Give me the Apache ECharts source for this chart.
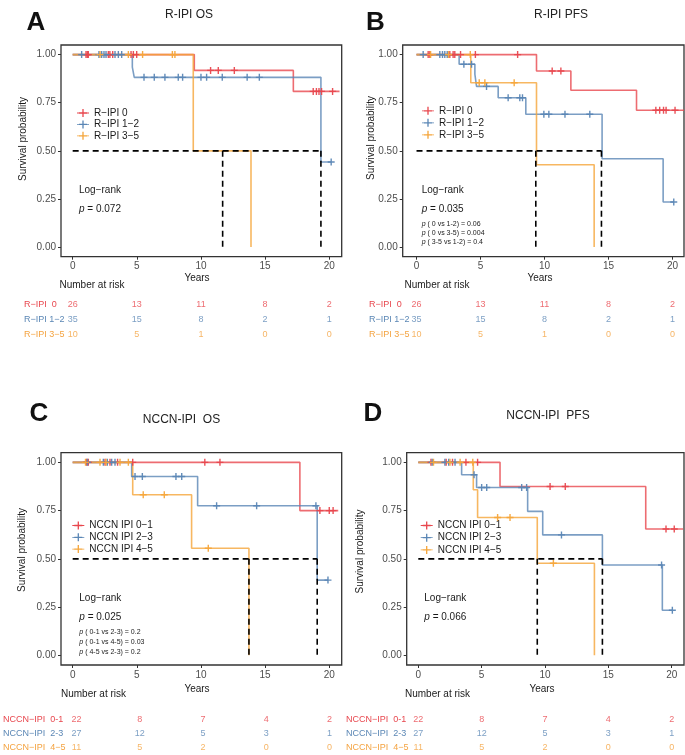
<!DOCTYPE html>
<html><head><meta charset="utf-8">
<script src="https://cdn.jsdelivr.net/npm/echarts@6/dist/echarts.min.js"></script>
<style>html,body{margin:0;padding:0;background:#fff}#c{width:685px;height:755px}</style>
</head><body><div id="c"></div>
<script>
// ---------------- DATA ----------------
const tickYears = [0, 5, 10, 15, 20];
const tickSurv = [0, 0.25, 0.5, 0.75, 1];
const riskTimes = [0, 5, 10, 15, 20];

const ripiGroups = ['R−IPI 0', 'R−IPI 1−2', 'R−IPI 3−5'];
const nccnGroups = ['NCCN IPI 0−1', 'NCCN IPI 2−3', 'NCCN IPI 4−5'];
const ripiRiskLabels = ['R−IPI  0', 'R−IPI 1−2', 'R−IPI 3−5'];
const nccnRiskLabels = ['NCCN−IPI  0-1', 'NCCN−IPI  2-3', 'NCCN−IPI  4−5'];

const ripiRisk0 = [26, 13, 11, 8, 2];
const ripiRisk12 = [35, 15, 8, 2, 1];
const ripiRisk35 = [10, 5, 1, 0, 0];
const nccnRisk01 = [22, 8, 7, 4, 2];
const nccnRisk23 = [27, 12, 5, 3, 1];
const nccnRisk45 = [11, 5, 2, 0, 0];

// Panel A: R-IPI OS
const aTime0 = [0, 9.48, 17.2, 20.8];
const aSurv0 = [1, 0.918, 0.809, 0.809];
const aCens0 = [1.04, 1.14, 1.22, 2.78, 2.9, 3.12, 4.55, 4.73, 4.99, 10.75, 11.35, 12.6, 18.75, 19.0, 19.2, 19.4, 20.26];
const aTime1 = [0, 4.65, 4.8, 19.35, 20.15];
const aSurv1 = [1, 0.935, 0.882, 0.442, 0.442];
const aCens1 = [0.7, 2.05, 2.26, 2.44, 2.6, 3.3, 3.56, 3.82, 5.56, 6.36, 7.19, 8.23, 8.57, 10.0, 10.44, 11.66, 13.6, 14.55, 20.15];
const aTime2 = [0, 9.4, 13.9];
const aSurv2 = [1, 0.5, 0];
const aCens2 = [2.13, 4.34, 5.45, 7.77, 7.97];
const aMedians = [11.69, 19.35];

// Panel B: R-IPI PFS
const bTime0 = [0, 9.375, 12.06, 17.19, 20.9];
const bSurv0 = [1, 0.915, 0.815, 0.711, 0.711];
const bCens0 = [0.91, 1.04, 2.6, 2.86, 2.99, 3.44, 4.6, 7.9, 10.6, 11.28, 18.7, 19.0, 19.3, 19.5, 20.2];
const bTime1 = [0, 3.33, 4.56, 4.69, 6.38, 8.54, 14.5, 19.27, 20.1];
const bSurv1 = [1, 0.95, 0.898, 0.835, 0.776, 0.69, 0.459, 0.234, 0.234];
const bCens1 = [0.52, 1.82, 2.03, 2.21, 2.4, 3.7, 4.3, 5.47, 7.16, 8.07, 8.28, 9.95, 10.34, 11.6, 13.54, 20.1];
const bTime2 = [0, 4.24, 9.375, 13.88];
const bSurv2 = [1, 0.854, 0.428, 0];
const bCens2 = [1.1, 2.5, 4.2, 4.9, 5.34, 7.63];
const bMedians = [9.32, 14.45];

// Panel C: NCCN-IPI OS
const cTime0 = [0, 17.71, 20.7];
const cSurv0 = [1, 0.75, 0.75];
const cCens0 = [1.09, 1.22, 2.52, 2.91, 3.5, 4.68, 10.3, 11.48, 19.27, 20.0, 20.3];
const cTime1 = [0, 4.6, 9.74, 19.06, 19.9];
const cSurv1 = [1, 0.927, 0.775, 0.39, 0.39];
const cCens1 = [1.15, 2.39, 2.7, 3.04, 3.3, 4.86, 5.43, 8.05, 8.5, 11.22, 14.34, 18.96, 19.9];
const cTime2 = [0, 4.68, 9.27, 13.74];
const cSurv2 = [1, 0.832, 0.555, 0];
const cCens2 = [1.0, 2.13, 2.6, 3.69, 4.34, 5.5, 7.14, 10.57];
const cMedians = [13.74, 19.06];

// Panel D: NCCN-IPI PFS
const dTime0 = [0, 6.45, 17.95, 20.9];
const dSurv0 = [1, 0.875, 0.655, 0.655];
const dCens0 = [1.0, 2.2, 2.7, 3.76, 4.68, 10.4, 11.6, 19.55, 20.2];
const dTime1 = [0, 3.42, 4.6, 8.63, 9.82, 14.53, 19.26, 20.05];
const dSurv1 = [1, 0.936, 0.87, 0.746, 0.624, 0.468, 0.234, 0.234];
const dCens1 = [1.1, 2.1, 2.4, 2.9, 4.4, 5.0, 5.4, 8.16, 8.55, 11.3, 19.2, 20.05];
const dTime2 = [0, 4.34, 4.68, 9.39, 13.9];
const dSurv2 = [1, 0.858, 0.714, 0.477, 0];
const dCens2 = [1.2, 2.5, 3.3, 4.3, 6.26, 7.24, 10.66];
const dMedians = [9.39, 14.53];

// ---------------- STYLE / LAYOUT ----------------
const FONT = '"Liberation Sans", Arial, Helvetica, sans-serif';
const lineColors = ['#E8474E', '#5A86B5', '#F5A53A'];
const textColors = ['#E8474E', '#5B87B5', '#F4A340'];
const plusPath = 'path://M4,0H6V4H10V6H6V10H4V6H0V4H4Z';
const legendIcon = 'path://M0,3.6H12V4.4H0Z M5.35,0H6.65V8H5.35Z M2,3.35H10V4.65H2Z';

const panels = [
  { curves: [[aTime0, aSurv0, aCens0], [aTime1, aSurv1, aCens1], [aTime2, aSurv2, aCens2]], medians: aMedians,
    groups: ripiGroups, riskLabels: ripiRiskLabels, risk: [ripiRisk0, ripiRisk12, ripiRisk35],
    grid: { left: 61, top: 45, width: 280.7, height: 211.7 }, xMin: -0.91, xMax: 20.97,
    riskGrid: { left: 61, top: 296.7, width: 280.7, height: 45.6 }, labelMargin: 37,
    legend: { left: 77, top: 108, itemGap: 1.4 },
    letter: [36, 23, 'A'], title: [189, 15, 'R-IPI OS'], yTitle: [23, 139], years: [197, 278], nrisk: [92, 285.3],
    logrank: [79, 190], pval: [79, 209.3, '0.072'], pairs: [] },
  { curves: [[bTime0, bSurv0, bCens0], [bTime1, bSurv1, bCens1], [bTime2, bSurv2, bCens2]], medians: bMedians,
    groups: ripiGroups, riskLabels: ripiRiskLabels, risk: [ripiRisk0, ripiRisk12, ripiRisk35],
    grid: { left: 402.7, top: 45, width: 281.3, height: 211.7 }, xMin: -1.08, xMax: 20.9,
    riskGrid: { left: 402.7, top: 296.7, width: 281.3, height: 45.6 }, labelMargin: 33.7,
    legend: { left: 422, top: 105.8, itemGap: 2 },
    letter: [375.5, 23, 'B'], title: [561, 15, 'R-IPI PFS'], yTitle: [371.7, 138], years: [540, 278], nrisk: [437, 285.5],
    logrank: [421.7, 190.7], pval: [421.7, 209.3, '0.035'],
    pairs: [[224, ' ( 0 vs 1-2) = 0.06'], [233.3, ' ( 0 vs 3-5) = 0.004'], [241.7, ' ( 3-5 vs 1-2) = 0.4']] },
  { curves: [[cTime0, cSurv0, cCens0], [cTime1, cSurv1, cCens1], [cTime2, cSurv2, cCens2]], medians: cMedians,
    groups: nccnGroups, riskLabels: nccnRiskLabels, risk: [nccnRisk01, nccnRisk23, nccnRisk45],
    grid: { left: 61, top: 452.7, width: 280.7, height: 212.3 }, xMin: -0.91, xMax: 20.97,
    riskGrid: { left: 61, top: 712.1, width: 280.7, height: 47.5 }, labelMargin: 62,
    legend: { left: 72.3, top: 520.5, itemGap: 1.8 },
    letter: [39, 414, 'C'], title: [181.5, 419.3, 'NCCN-IPI  OS'], yTitle: [22.7, 550], years: [197, 689.3], nrisk: [93.5, 694],
    logrank: [79.3, 598.3], pval: [79.3, 617.3, '0.025'],
    pairs: [[632.3, ' ( 0-1 vs 2-3) = 0.2'], [642, ' ( 0-1 vs 4-5) = 0.03'], [651.7, ' ( 4-5 vs 2-3) = 0.2']] },
  { curves: [[dTime0, dSurv0, dCens0], [dTime1, dSurv1, dCens1], [dTime2, dSurv2, dCens2]], medians: dMedians,
    groups: nccnGroups, riskLabels: nccnRiskLabels, risk: [nccnRisk01, nccnRisk23, nccnRisk45],
    grid: { left: 406.7, top: 452.7, width: 277.3, height: 212.3 }, xMin: -0.915, xMax: 20.97,
    riskGrid: { left: 406.7, top: 712.1, width: 277.3, height: 47.5 }, labelMargin: 60.7,
    legend: { left: 420.7, top: 520.5, itemGap: 2.2 },
    letter: [373, 414, 'D'], title: [548, 416, 'NCCN-IPI  PFS'], yTitle: [360, 551.5], years: [542, 689.3], nrisk: [437.5, 694],
    logrank: [424.3, 598.3], pval: [424.3, 617, '0.066'], pairs: [] }
];

function stepAt(t, s, x) {
  let y = s[0];
  for (let i = 0; i < t.length; i++) if (t[i] <= x) y = s[i];
  return y;
}

function txt(x, y, text, o) {
  o = o || {};
  return {
    type: 'text', x: x, y: y, rotation: o.rotation || 0, z: 50,
    style: {
      text: text, fill: o.fill || '#1a1a1a',
      fontSize: o.fontSize || 10, fontFamily: FONT, fontWeight: o.fontWeight || 'normal', fontStyle: o.fontStyle || 'normal',
      align: o.align || 'left', textAlign: o.align || 'left',
      verticalAlign: 'middle', textVerticalAlign: 'middle',
      rich: o.rich
    }
  };
}

const grids = [], xAxes = [], yAxes = [], series = [], legends = [], graphics = [];

panels.forEach((p, i) => {
  grids.push(Object.assign({ show: true, borderColor: '#333', borderWidth: 1.3, backgroundColor: 'transparent', containLabel: false }, p.grid));
});
panels.forEach((p, i) => {
  grids.push(Object.assign({ show: false, containLabel: false }, p.riskGrid));
});

panels.forEach((p, i) => {
  xAxes.push({
    type: 'value', gridIndex: i, min: p.xMin, max: p.xMax, position: 'bottom',
    axisLine: { show: false, onZero: false },
    axisTick: { show: true, length: 3, lineStyle: { color: '#333', width: 1 }, customValues: tickYears },
    axisLabel: { customValues: tickYears, margin: 5, fontSize: 10, color: '#4d4d4d', fontFamily: FONT },
    splitLine: { show: false }
  });
  yAxes.push({
    type: 'value', gridIndex: i, min: -0.05, max: 1.05, position: 'left',
    axisLine: { show: false, onZero: false },
    axisTick: { show: true, length: 3, lineStyle: { color: '#333', width: 1 }, customValues: tickSurv },
    axisLabel: { customValues: tickSurv, margin: 5, fontSize: 10, color: '#4d4d4d', fontFamily: FONT,
      formatter: v => Number(v).toFixed(2) },
    splitLine: { show: false }
  });
});
panels.forEach((p, i) => {
  xAxes.push({ type: 'value', gridIndex: 4 + i, min: p.xMin, max: p.xMax, show: false, axisLine: { onZero: false } });
  const rich = {};
  textColors.forEach((c, k) => { rich['g' + k] = { color: c, fontSize: 9, fontFamily: FONT }; });
  yAxes.push({
    type: 'category', gridIndex: 4 + i, data: p.riskLabels, inverse: true, position: 'left',
    axisLine: { show: false, onZero: false }, axisTick: { show: false }, splitLine: { show: false },
    axisLabel: { interval: 0, hideOverlap: false, align: 'left', margin: p.labelMargin,
      formatter: (v, idx) => '{g' + idx + '|' + v + '}', rich: rich }
  });
});

panels.forEach((p, i) => {
  p.curves.forEach((cv, g) => {
    const t = cv[0], s = cv[1], cens = cv[2];
    series.push({
      type: 'line', name: p.groups[g], xAxisIndex: i, yAxisIndex: i, step: 'end',
      data: t.map((x, k) => [x, s[k]]), showSymbol: false, symbol: 'none',
      lineStyle: { color: lineColors[g], width: 1.6, opacity: 0.8 }, itemStyle: { color: lineColors[g] },
      z: 3, silent: true, animation: false
    });
    series.push({
      type: 'scatter', name: 'censor ' + p.groups[g] + ' ' + i, xAxisIndex: i, yAxisIndex: i,
      data: cens.map(x => [x, stepAt(t, s, x)]), symbol: plusPath, symbolSize: 7,
      itemStyle: { color: lineColors[g], opacity: 0.95 }, z: 4, silent: true, animation: false
    });
  });
  const mMax = Math.max.apply(null, p.medians);
  const dash = { color: '#000', width: 1.6, type: [6, 4] };
  series.push({ type: 'line', xAxisIndex: i, yAxisIndex: i, data: [[0, 0.5], [mMax, 0.5]], showSymbol: false, symbol: 'none',
    lineStyle: dash, z: 5, silent: true, animation: false });
  p.medians.forEach(m => {
    series.push({ type: 'line', xAxisIndex: i, yAxisIndex: i, data: [[m, 0.5], [m, 0]], showSymbol: false, symbol: 'none',
      lineStyle: dash, z: 5, silent: true, animation: false });
  });
  p.risk.forEach((counts, g) => {
    series.push({
      type: 'scatter', xAxisIndex: 4 + i, yAxisIndex: 4 + i, symbolSize: 1,
      itemStyle: { color: 'transparent' },
      data: riskTimes.map((x, k) => [x, g, counts[k]]),
      label: { show: true, position: 'inside', formatter: q => String(q.value[2]), color: textColors[g], fontSize: 9, fontFamily: FONT },
      silent: true, animation: false
    });
  });
  legends.push({
    orient: 'vertical', left: p.legend.left, top: p.legend.top, itemGap: p.legend.itemGap,
    itemWidth: 12, itemHeight: 8, icon: legendIcon, padding: 0,
    data: p.groups, selectedMode: false,
    textStyle: { fontSize: 10, color: '#1a1a1a', fontFamily: FONT }
  });
  graphics.push(txt(p.letter[0], p.letter[1], p.letter[2], { align: 'center', fontSize: 26, fontWeight: 'bold', fill: '#111' }));
  graphics.push(txt(p.title[0], p.title[1], p.title[2], { align: 'center', fontSize: 12, fill: '#222' }));
  graphics.push(txt(p.yTitle[0], p.yTitle[1], 'Survival probability', { align: 'center', fontSize: 10, rotation: Math.PI / 2 }));
  graphics.push(txt(p.years[0], p.years[1], 'Years', { align: 'center', fontSize: 10 }));
  graphics.push(txt(p.nrisk[0], p.nrisk[1], 'Number at risk', { align: 'center', fontSize: 10 }));
  graphics.push(txt(p.logrank[0], p.logrank[1], 'Log−rank', { fontSize: 10 }));
  graphics.push(txt(p.pval[0], p.pval[1], '{i|p} = ' + p.pval[2], { fontSize: 10,
    rich: { i: { fontStyle: 'italic', fontSize: 10, fontFamily: FONT, fill: '#1a1a1a', color: '#1a1a1a' } } }));
  p.pairs.forEach(pr => {
    graphics.push(txt(p.pval[0], pr[0], '{i|p}' + pr[1], { fontSize: 7,
      rich: { i: { fontStyle: 'italic', fontSize: 7, fontFamily: FONT, fill: '#1a1a1a', color: '#1a1a1a' } } }));
  });
});

const chart = echarts.init(document.getElementById('c'), null, { renderer: 'canvas' });
chart.setOption({
  animation: false,
  backgroundColor: '#fff',
  grid: grids, xAxis: xAxes, yAxis: yAxes, series: series, legend: legends,
  graphic: { elements: graphics }
});
</script>
</body></html>
